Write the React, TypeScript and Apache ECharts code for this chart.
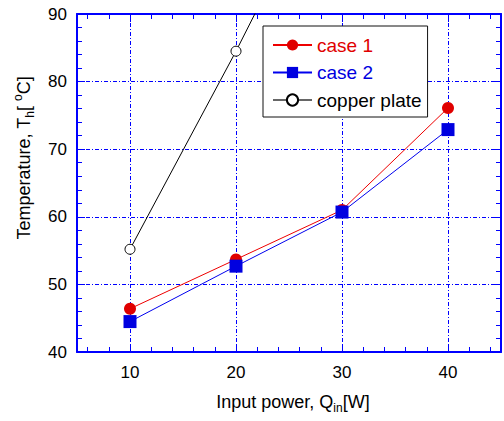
import React, { useEffect, useRef } from "react";
import * as echarts from "echarts";

const xValues4 = [10, 20, 30, 40];
const case1 = [46.4, 53.7, 61.0, 76.1];
const case2 = [44.5, 52.7, 60.7, 72.9];
const copperX = [10, 20, 30];
const copper = [55.2, 84.5, 115.5];
const seriesNames = ["case 1", "case 2", "copper plate"];

const FONT = "'Liberation Sans', Arial, sans-serif";
const BLUE = "#0000ff";

export default function App() {
  const ref = useRef<HTMLDivElement>(null);
  useEffect(() => {
    document.body.style.margin = "0";
    const chart = echarts.init(ref.current!, null, { renderer: "svg" });
    const gridLine = { show: true, lineStyle: { color: BLUE, width: 1, type: [4, 2, 1, 2] } };
    const baseAxis = {
      type: "value" as const,
      axisLine: { show: true, onZero: false, lineStyle: { color: BLUE, width: 2 } },
      axisTick: { show: true, inside: true, length: 8, lineStyle: { color: BLUE, width: 1 } },
      minorTick: { show: true, splitNumber: 5, length: 5, lineStyle: { color: BLUE, width: 1 } },
    };
    chart.setOption({
      animation: false,
      backgroundColor: "#fff",
      grid: { left: 77, right: 1, top: 14, bottom: 69, containLabel: false },
      xAxis: [
        {
          ...baseAxis,
          min: 5,
          max: 45,
          position: "bottom",
          splitLine: gridLine,
          axisLabel: {
            color: "#000",
            fontSize: 17,
            fontFamily: FONT,
            margin: 12,
            formatter: (v: number) => (v % 10 === 0 ? String(v) : ""),
          },
        },
        {
          ...baseAxis,
          min: 5,
          max: 45,
          position: "top",
          splitLine: { show: false },
          axisLabel: { show: false },
        },
      ],
      yAxis: [
        {
          ...baseAxis,
          min: 40,
          max: 90,
          interval: 10,
          position: "left",
          splitLine: gridLine,
          axisLabel: { color: "#000", fontSize: 17, fontFamily: FONT, margin: 10 },
        },
        {
          ...baseAxis,
          min: 40,
          max: 90,
          interval: 10,
          position: "right",
          splitLine: { show: false },
          axisLabel: { show: false },
        },
      ],
      legend: {
        orient: "vertical",
        left: 263,
        top: 26,
        backgroundColor: "#fff",
        borderColor: "#111",
        borderWidth: 1,
        borderRadius: 0,
        padding: [9, 6, 7, 9],
        itemGap: 7.5,
        itemWidth: 39,
        itemHeight: 14,
        textStyle: { fontSize: 19, fontFamily: FONT, lineHeight: 20 },
        data: [
          { name: seriesNames[0], textStyle: { color: "#e00000" } },
          { name: seriesNames[1], textStyle: { color: "#0000e0" } },
          { name: seriesNames[2], textStyle: { color: "#000" }, lineStyle: { color: "#666", width: 2 } },
        ],
      },
      graphic: [
        {
          type: "text",
          x: 24,
          y: 158,
          rotation: Math.PI / 2,
          style: {
            text: "Temperature, T{sub|h}[ {sup|o}C]",
            fontSize: 18,
            fontFamily: FONT,
            fill: "#000",
            align: "center",
            verticalAlign: "middle",
            rich: {
              sub: { fontSize: 12, fontFamily: FONT, padding: [12, 0, 0, 0] },
              sup: { fontSize: 12, fontFamily: FONT, padding: [0, 0, 12, 0] },
            },
          },
        },
        {
          type: "text",
          x: 293,
          y: 402,
          style: {
            text: "Input power, Q{sub|in}[W]",
            fontSize: 18,
            fontFamily: FONT,
            fill: "#000",
            align: "center",
            verticalAlign: "middle",
            rich: {
              sub: { fontSize: 12, fontFamily: FONT, padding: [12, 0, 0, 0] },
            },
          },
        },
      ],
      series: [
        {
          name: seriesNames[0],
          type: "line",
          data: xValues4.map((x, i) => [x, case1[i]]),
          symbol: "circle",
          symbolSize: 12,
          lineStyle: { color: "#ee0000", width: 1 },
          itemStyle: { color: "#e00000" },
          z: 3,
        },
        {
          name: seriesNames[1],
          type: "line",
          data: xValues4.map((x, i) => [x, case2[i]]),
          symbol: "rect",
          symbolSize: 13,
          lineStyle: { color: "#0000ee", width: 1 },
          itemStyle: { color: "#0000e0" },
          z: 4,
        },
        {
          name: seriesNames[2],
          type: "line",
          data: copperX.map((x, i) => [x, copper[i]]),
          symbol: "circle",
          symbolSize: 10,
          clip: true,
          lineStyle: { color: "#000", width: 1 },
          itemStyle: { color: "#fff", borderColor: "#000", borderWidth: 1 },
          z: 5,
        },
      ],
    });
    return () => chart.dispose();
  }, []);
  return <div ref={ref} style={{ width: 504, height: 421 }} />;
}
